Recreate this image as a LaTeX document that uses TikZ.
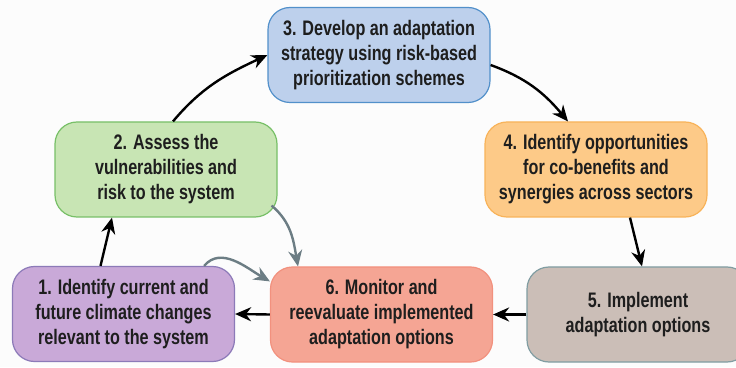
\documentclass[tikz,border=0pt]{standalone}
\usepackage{fontspec}
\setmainfont{Liberation Sans}[FakeStretch=0.77]
\usetikzlibrary{arrows.meta}
\definecolor{bg}{HTML}{FCFCFC}
\definecolor{txt}{HTML}{1E1E1E}
\definecolor{pf}{HTML}{C9A9D8}
\definecolor{pd}{HTML}{8C7AB8}
\definecolor{gf}{HTML}{C8E5B4}
\definecolor{gd}{HTML}{78C068}
\definecolor{bf}{HTML}{BDD0EC}
\definecolor{bd}{HTML}{5290CA}
\definecolor{of}{HTML}{FDCA88}
\definecolor{od}{HTML}{F8B35A}
\definecolor{tf}{HTML}{CBBEB7}
\definecolor{td}{HTML}{819DA2}
\definecolor{sf}{HTML}{F5A594}
\definecolor{sd}{HTML}{F2917E}
\definecolor{garrow}{HTML}{6C7D84}
\begin{document}
\begin{tikzpicture}[x=1pt,y=1pt,
  box/.style={rounded corners=22pt, line width=1.2pt, minimum width=222pt,
    minimum height=95pt, align=center, inner sep=0pt, text=txt,
    font=\fontsize{21}{25}\selectfont\bfseries},
  blk/.style={line width=2.4pt, draw=black, -{Stealth[length=16pt,width=14pt]}},
  gry/.style={line width=2.4pt, draw=garrow, -{Stealth[length=16pt,width=14pt]}}]
\fill[bg] (0,0) rectangle (736,367);
\useasboundingbox (0,0) rectangle (736,367);
\clip (0,0) rectangle (736,367);
\node[box, fill=pf, draw=pd] (n1) at (123.5,53) {1. Identify current and\\future climate changes\\relevant to the system};
\node[box, fill=gf, draw=gd] (n2) at (166,197.5) {2. Assess the\\vulnerabilities and\\risk to the system};
\node[box, fill=bf, draw=bd] (n3) at (379,312) {3. Develop an adaptation\\strategy using risk-based\\prioritization schemes};
\node[box, fill=of, draw=od] (n4) at (596,197.5) {4. Identify opportunities\\for co-benefits and\\synergies across sectors};
\node[box, fill=tf, draw=td] (n5) at (638,52.5) {5. Implement\\adaptation options};
\node[box, fill=sf, draw=sd] (n6) at (381.5,52.5) {6. Monitor and\\reevaluate implemented\\adaptation options};
% black cycle arrows
\draw[blk] ([xshift=-23pt]n1.north) -- ([xshift=-54pt]n2.south);
\draw[blk] ([xshift=7pt]n2.north) to[out=50,in=205] (n3.west);
\draw[blk] ([yshift=-10pt]n3.east) to[out=-20,in=130] ([xshift=-28pt]n4.north);
\draw[blk] ([xshift=34pt]n4.south) -- ([xshift=4pt]n5.north);
\draw[blk] (n5.west) -- (n6.east);
\draw[blk] (n6.west) -- (n1.east);
% gray arrows
\draw[gry] ([shift={(-6pt,12pt)}]n2.south east) to[out=-40,in=100] ([xshift=-83.5pt]n6.north);
\draw[gry] ([xshift=-31pt]n1.north east) to[out=50,in=150] ([yshift=-15pt]n6.north west);
\end{tikzpicture}
\end{document}
